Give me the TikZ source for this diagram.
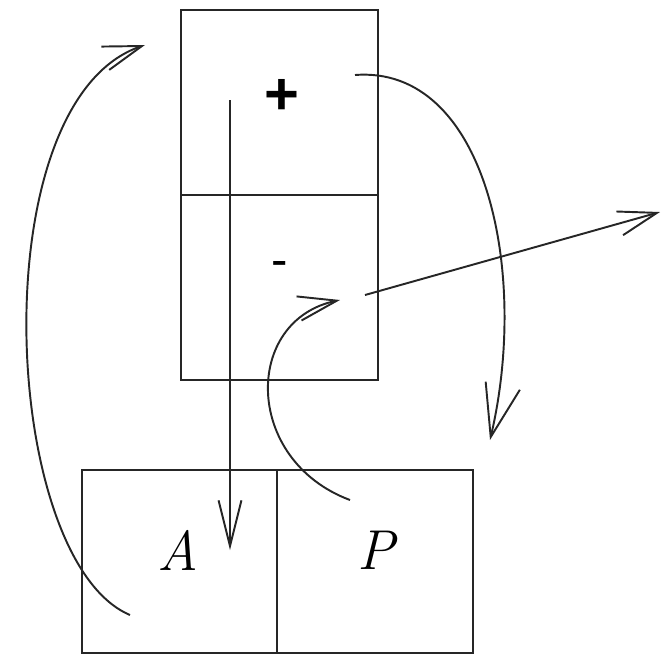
\documentclass[tikz,border=0pt]{standalone}
\usepackage{fontspec}
\newfontfamily\signfont{Liberation Sans}
\usetikzlibrary{arrows.meta}
\begin{document}
\begin{tikzpicture}[x=0.02cm,y=-0.02cm,
  cell/.style={draw=black!85,line width=1.2pt,inner sep=0pt,minimum width=#1},
  lbl/.style={inner sep=0pt,font=\fontsize{32}{36}\selectfont\itshape},
  sgn/.style={inner sep=0pt,font=\fontsize{34}{38}\selectfont\signfont\bfseries},
  conn/.style={line width=1.1pt,draw=black!85},
  barb/.style={-{Straight Barb[length=22pt,width=14pt,line width=1.1pt]}}]
\useasboundingbox (0,0) rectangle (662,657);
\node[cell=3.94cm,minimum height=3.7cm] (plus) at (279.5,102.5) {};
\node[cell=3.94cm,minimum height=3.7cm] (minus) at (279.5,287.5) {};
\node[cell=3.9cm,minimum height=3.66cm] (A) at (179.5,561.5) {};
\node[cell=3.92cm,minimum height=3.66cm] (P) at (375,561.5) {};
\node[sgn] (plustext) at (282,97) {+};
\node[sgn,font=\fontsize{28}{32}\selectfont\signfont] (minustext) at (280,269) {-};
\node[lbl] (Atext) at (178,550) {A};
\node[lbl] (Ptext) at (376,550) {P};
\coordinate (v1) at (230,100);
\coordinate (v2) at (230,550);
\coordinate (l1) at (130,615);
\coordinate (l2) at (145,45);
\coordinate (r1) at (355,75);
\coordinate (r2) at (490,440);
\coordinate (m1) at (350,500);
\coordinate (m2) at (340,300);
\coordinate (s1) at (365,295);
\coordinate (s2) at (660,212);
\draw[conn,-{Straight Barb[length=26pt,width=13pt,line width=1.1pt]}] (v1) -- (v2);
\draw[conn,barb] (l1) .. controls (0,560) and (-20,100) .. (l2);
\draw[conn,-{Straight Barb[length=30pt,width=20pt,line width=1.1pt]}] (r1) .. controls (485,65) and (530,270) .. (r2);
\draw[conn,barb] (m1) .. controls (243,460) and (243,320) .. (m2);
\draw[conn,barb] (s1) -- (s2);
\end{tikzpicture}
\end{document}
